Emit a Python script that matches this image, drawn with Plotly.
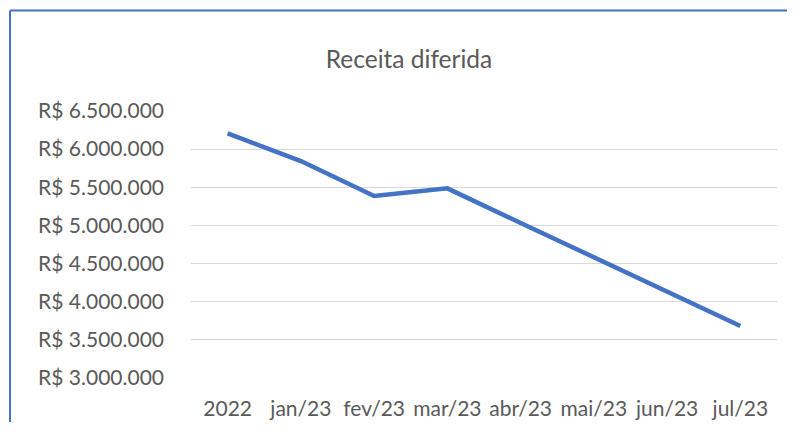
import plotly.graph_objects as go

categorias = ["2022", "jan/23", "fev/23", "mar/23", "abr/23", "mai/23", "jun/23", "jul/23"]
receita = [6207000, 5844000, 5385000, 5486000, 5033000, 4581000, 4129000, 3682000]
ticks_y = [3000000, 3500000, 4000000, 4500000, 5000000, 5500000, 6000000, 6500000]
rotulos_y = ["R$ " + f"{v:,}".replace(",", ".") for v in ticks_y]

fig = go.Figure()
fig.add_trace(go.Scatter(x=categorias, y=receita, mode="lines",
                         line=dict(color="#4472C4", width=4.5)))

# a página tem 8px de margem no body, então tudo é deslocado 8px
OFF = 8
W, H = 795 - 2 * OFF, 435 - 2 * OFF - 5
L, T = 191 - OFF, 111 - OFF
R = W - (777 - OFF)
B = H - (378 - OFF)
pw, ph = W - L - R, H - T - B

# moldura do gráfico: só topo e esquerda aparecem no recorte
bx = (10 - OFF - L) / pw
by = (H - B - (10.5 - OFF)) / ph
fig.add_shape(type="line", xref="paper", yref="paper", x0=bx, x1=(W - L) / pw, y0=by, y1=by,
              line=dict(color="#4472C4", width=2), layer="below")
fig.add_shape(type="line", xref="paper", yref="paper", x0=bx, x1=bx, y0=-B / ph, y1=by,
              line=dict(color="#4472C4", width=2), layer="below")

fig.update_layout(
    width=W, height=H,
    margin=dict(l=L, r=R, t=T, b=B, autoexpand=False),
    paper_bgcolor="white", plot_bgcolor="white",
    showlegend=False,
    font=dict(family="Lato", color="#595959", size=21),
    title=dict(text="Receita diferida", x=(409 - OFF - L) / pw, xref="paper",
               xanchor="center", y=(H - (59 - OFF)) / H, yanchor="middle",
               font=dict(family="Lato", size=24.5, color="#595959")),
    xaxis=dict(type="category", range=[-0.5, 7.5], showgrid=False, automargin=False,
               showline=False, zeroline=False, ticks="", ticklen=0,
               ticklabelstandoff=16, tickfont=dict(size=21)),
    yaxis=dict(range=[3000000, 6500000], tickvals=ticks_y, ticktext=rotulos_y,
               showgrid=True, gridcolor="#D9D9D9", gridwidth=1.2, automargin=False,
               zeroline=False, showline=False, ticks="",
               ticklabelstandoff=26, tickfont=dict(size=21)),
)

fig.write_html("out.html")
